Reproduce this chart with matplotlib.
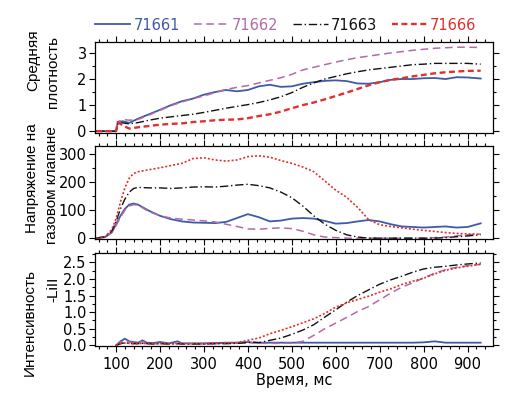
import matplotlib
matplotlib.use('Agg')
from matplotlib import pyplot as plt
from matplotlib.ticker import MultipleLocator

plt.rcParams['font.family'] = ['DejaVu Sans']
plt.rcParams['font.size'] = 10.5

names = ['71661', '71662', '71663', '71666']
colors = ['#3d5ba9', '#b46aa6', '#111111', '#e2302e']
styles = ['-', (0, (5, 3)), (0, (6, 2, 1, 2)), (0, (2.5, 1.5))]
widths = [1.3, 1.1, 1.0, 1.7]

# Top panel: mean density
t_top = [55, 100, 104, 115, 130, 150, 175, 200, 225, 250, 275, 300, 325, 350, 375,
         400, 425, 450, 475, 500, 525, 550, 575, 600, 625, 650, 675, 700, 725, 750,
         775, 800, 825, 850, 875, 900, 930]
dens_71661 = [0, 0, 0.36, 0.38, 0.32, 0.48, 0.65, 0.82, 1.0, 1.15, 1.25, 1.4, 1.5, 1.58, 1.53,
              1.58, 1.72, 1.78, 1.70, 1.72, 1.82, 1.88, 1.93, 1.95, 1.92, 1.83, 1.82, 1.88, 1.97, 2.0,
              2.0, 2.03, 2.04, 2.0, 2.07, 2.06, 2.02]
dens_71662 = [0, 0, 0.35, 0.45, 0.42, 0.45, 0.62, 0.8, 0.98, 1.12, 1.25, 1.35, 1.48, 1.6, 1.68,
              1.75, 1.85, 1.95, 2.05, 2.18, 2.35, 2.45, 2.55, 2.65, 2.74, 2.82, 2.88, 2.94, 3.0, 3.05,
              3.1, 3.14, 3.18, 3.2, 3.22, 3.22, 3.21]
dens_71663 = [0, 0, 0.3, 0.32, 0.28, 0.33, 0.42, 0.5, 0.55, 0.6, 0.65, 0.72, 0.8, 0.88, 0.95,
              1.02, 1.1, 1.2, 1.32, 1.48, 1.68, 1.85, 2.0, 2.1, 2.2, 2.28, 2.35, 2.4, 2.45, 2.5,
              2.55, 2.57, 2.6, 2.6, 2.6, 2.6, 2.57]
dens_71666 = [0, 0, 0.35, 0.22, 0.1, 0.15, 0.2, 0.25, 0.28, 0.3, 0.35, 0.38, 0.42, 0.44, 0.45,
              0.5, 0.58, 0.65, 0.75, 0.88, 1.0, 1.1, 1.22, 1.35, 1.48, 1.62, 1.76, 1.88, 1.97, 2.03,
              2.1, 2.16, 2.22, 2.26, 2.29, 2.31, 2.32]

# Middle panel: gas valve voltage
t_mid = [55, 75, 90, 100, 110, 120, 130, 140, 150, 175, 200, 225, 250, 275, 300, 325, 350,
         375, 400, 425, 450, 475, 500, 525, 550, 575, 600, 625, 650, 675, 700, 725, 750,
         775, 800, 825, 850, 875, 900, 930]
volt_71661 = [0, 4, 20, 50, 80, 105, 120, 124, 120, 98, 80, 68, 60, 56, 55, 54, 58,
              72, 86, 75, 60, 63, 70, 72, 70, 62, 52, 54, 60, 65, 60, 50, 42,
              40, 38, 40, 42, 38, 40, 53]
volt_71662 = [0, 4, 20, 45, 75, 100, 115, 120, 118, 95, 80, 72, 68, 65, 62, 58, 50,
              42, 33, 32, 35, 37, 34, 25, 12, 4, 2, 0, 0, 0, 0, 0, 0,
              0, 0, 2, 4, 8, 12, 15]
volt_71663 = [0, 5, 25, 60, 105, 140, 165, 178, 182, 180, 180, 178, 180, 183, 184, 183, 186,
              190, 193, 188, 180, 165, 145, 115, 80, 50, 28, 12, 4, 0, 0, 0, 0,
              0, 0, 0, 2, 5, 8, 12]
volt_71666 = [0, 5, 30, 70, 130, 180, 215, 232, 238, 245, 252, 260, 268, 285, 288, 280, 276,
              280, 292, 295, 290, 278, 268, 255, 238, 205, 172, 146, 110, 66, 48, 42, 37,
              32, 28, 24, 20, 17, 15, 14]

# Bottom panel: LiII intensity
t_bot = [100, 110, 120, 130, 140, 150, 160, 170, 185, 200, 220, 240, 250, 275, 300, 325,
         350, 375, 400, 410, 425, 450, 475, 500, 525, 550, 575, 600, 625, 650, 675, 700,
         725, 750, 775, 800, 825, 850, 875, 900, 930]
lii_71661 = [0, 0.12, 0.2, 0.12, 0.1, 0.08, 0.15, 0.08, 0.07, 0.1, 0.06, 0.12, 0.06, 0.06, 0.06, 0.07,
             0.08, 0.08, 0.1, 0.08, 0.08, 0.08, 0.08, 0.08, 0.08, 0.08, 0.08, 0.08, 0.08, 0.08, 0.08, 0.08,
             0.08, 0.08, 0.08, 0.09, 0.12, 0.08, 0.08, 0.08, 0.08]
lii_71662 = [0, 0.08, 0.15, 0.1, 0.08, 0.06, 0.12, 0.06, 0.05, 0.06, 0.05, 0.06, 0.05, 0.05, 0.05, 0.05,
             0.06, 0.07, 0.1, 0.08, 0.06, 0.06, 0.06, 0.07, 0.12, 0.3, 0.5, 0.67, 0.84, 1.02, 1.17, 1.37,
             1.57, 1.75, 1.88, 2.03, 2.17, 2.28, 2.35, 2.4, 2.44]
lii_71663 = [0, 0.05, 0.08, 0.06, 0.05, 0.05, 0.06, 0.05, 0.04, 0.05, 0.04, 0.05, 0.04, 0.04, 0.04, 0.05,
             0.05, 0.06, 0.08, 0.1, 0.08, 0.15, 0.22, 0.33, 0.46, 0.62, 0.85, 1.07, 1.3, 1.5, 1.67, 1.84,
             1.97, 2.08, 2.2, 2.3, 2.35, 2.38, 2.42, 2.45, 2.48]
lii_71666 = [0, 0.05, 0.07, 0.06, 0.05, 0.05, 0.06, 0.05, 0.05, 0.05, 0.04, 0.05, 0.05, 0.05, 0.05, 0.06,
             0.07, 0.08, 0.15, 0.18, 0.22, 0.35, 0.45, 0.56, 0.68, 0.8, 0.96, 1.15, 1.28, 1.38, 1.48, 1.6,
             1.7, 1.83, 1.93, 2.02, 2.15, 2.26, 2.33, 2.38, 2.44]

x_ticks = [100, 200, 300, 400, 500, 600, 700, 800, 900]

W, H = 515, 397
fig = plt.figure(figsize=(W / 100, H / 100), dpi=100)
left, width = 95 / W, 398 / W
ax1 = fig.add_axes([left, 1 - 132.5 / H, width, 90.5 / H])
ax2 = fig.add_axes([left, 1 - 239 / H, width, 93 / H])
ax3 = fig.add_axes([left, 1 - 346 / H, width, 93 / H])

top_series = [dens_71661, dens_71662, dens_71663, dens_71666]
mid_series = [volt_71661, volt_71662, volt_71663, volt_71666]
bot_series = [lii_71661, lii_71662, lii_71663, lii_71666]

for i in range(4):
    ax1.plot(t_top, top_series[i], color=colors[i], ls=styles[i], lw=widths[i], label=names[i])
    mid_ls = (0, (1.2, 1.2)) if i == 3 else styles[i]
    mid_lw = 1.2 if i == 3 else widths[i]
    ax2.plot(t_mid, mid_series[i], color=colors[i], ls=mid_ls, lw=mid_lw)
    ax3.plot(t_bot, bot_series[i], color=colors[i], ls=mid_ls, lw=mid_lw)

ax1.set_ylim(-0.05, 3.42)
ax1.yaxis.set_major_locator(MultipleLocator(1))
ax1.yaxis.set_minor_locator(MultipleLocator(0.5))
ax2.set_ylim(-3, 330)
ax2.yaxis.set_major_locator(MultipleLocator(100))
ax2.yaxis.set_minor_locator(MultipleLocator(50))
ax3.set_ylim(-0.02, 2.78)
ax3.yaxis.set_major_locator(MultipleLocator(0.5))
ax3.yaxis.set_minor_locator(MultipleLocator(0.25))
ax3.yaxis.set_major_formatter(lambda v, p: f"{v:.1f}")

for ax in (ax1, ax2, ax3):
    ax.set_xlim(52, 958)
    ax.set_xticks(x_ticks)
    ax.xaxis.set_minor_locator(MultipleLocator(20))
    ax.tick_params(which='both', direction='out', top=True, right=True, width=0.8)
    ax.tick_params(axis='y', pad=2)
    ax.tick_params(axis='x', pad=4)
    ax.tick_params(which='major', length=4)
    ax.tick_params(which='minor', length=2)
    for s in ax.spines.values():
        s.set_linewidth(0.9)
ax1.tick_params(labelbottom=False)
ax2.tick_params(labelbottom=False)

# y labels: each line placed on its own, as in the original
label_lines = [("Средняя", 33, 60), ("плотность", 53, 71.5),
               ("Напряжение на", 32, 178), ("газовом клапане", 52, 185.5),
               ("Интенсивность", 30, 323), ("-LiII", 53, 289)]
for txt, px, py in label_lines:
    fig.text(px / W, 1 - py / H, txt, rotation=90, ha='center', va='center',
             family='Liberation Sans', size=11)

ax3.set_xlabel("Время, мс", labelpad=1)

leg = fig.legend(loc='center', bbox_to_anchor=(0.555, 1 - 25 / H), ncol=4, frameon=False,
                 handlelength=2.4, handletextpad=0.2, columnspacing=1.0, borderpad=0)
for txt, c in zip(leg.get_texts(), colors):
    txt.set_color(c)

fig.savefig('out.png', dpi=100)
